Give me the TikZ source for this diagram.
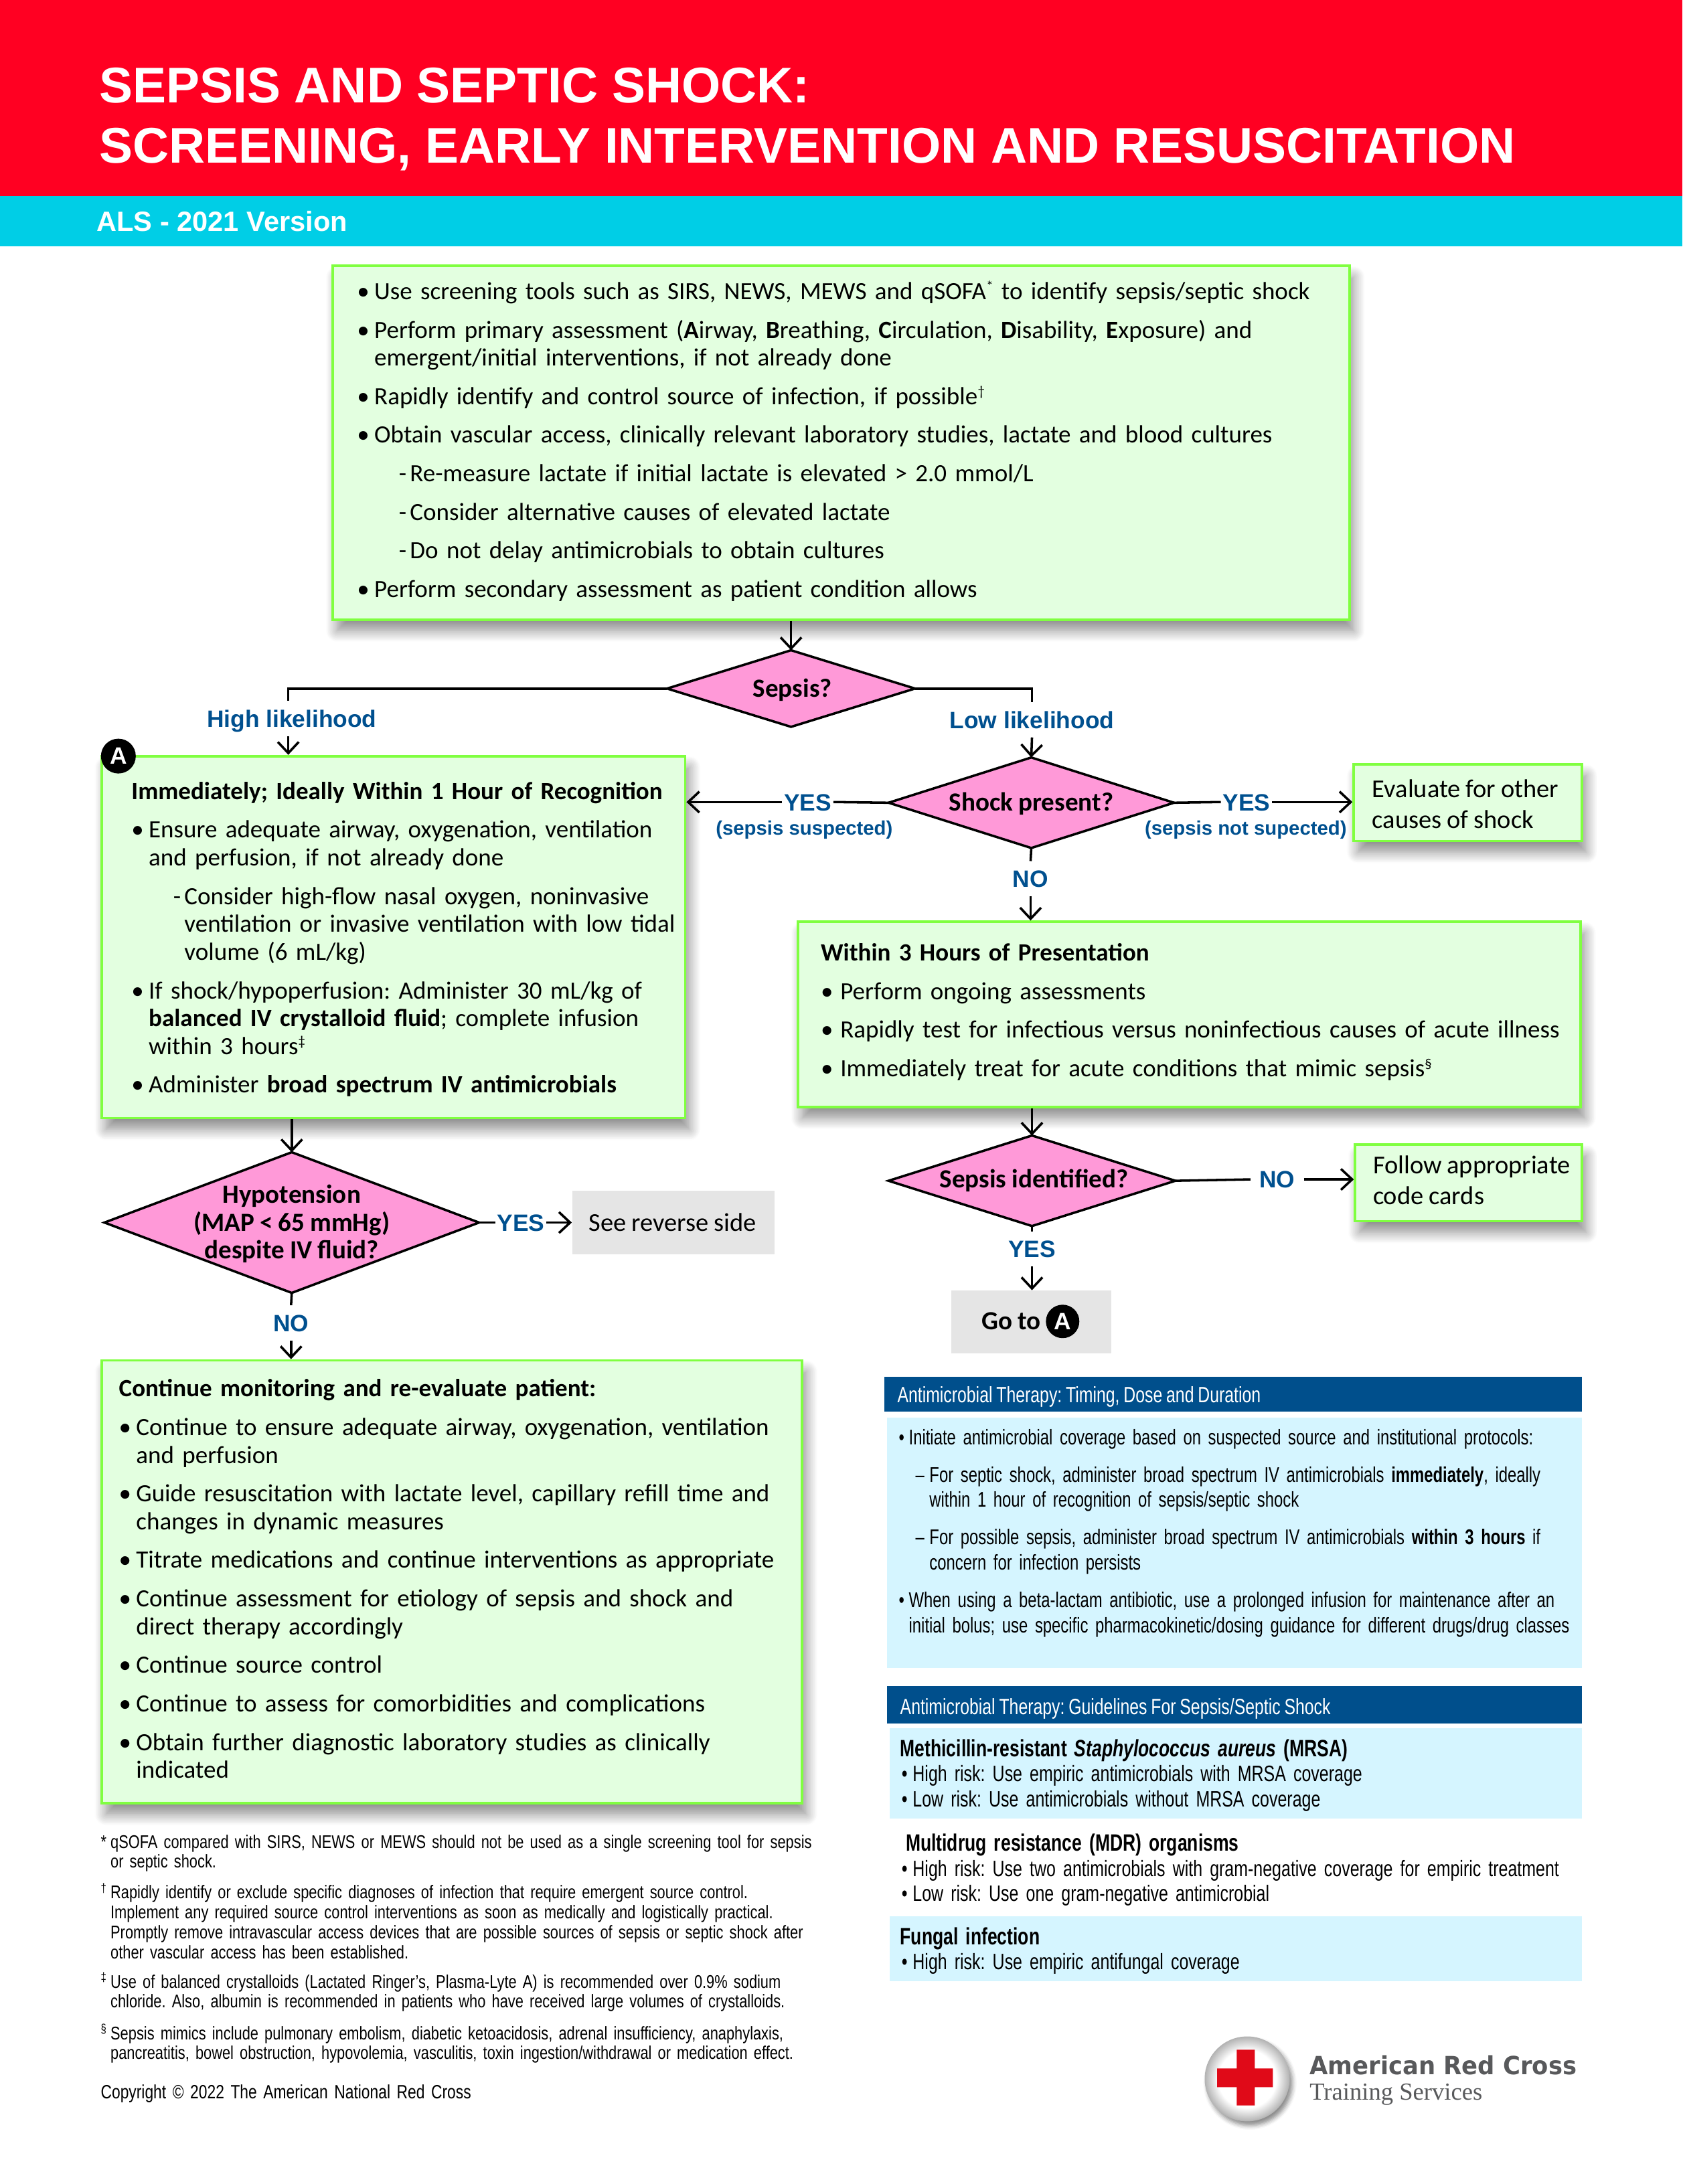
\documentclass[tikz,border=0pt]{standalone}
\usepackage{fontspec}
\setmainfont[WordSpace=0.9]{Carlito}
\newfontfamily\arialfont{Liberation Sans}
\newfontfamily\panelfont[FakeStretch=0.75,WordSpace=0.85]{Liberation Sans}
\newfontfamily\notefont[FakeStretch=0.795]{Liberation Sans}
\newfontfamily\logofont[FakeStretch=0.945]{DejaVu Sans}
\newfontfamily\logoserif{Liberation Serif}
\usetikzlibrary{arrows.meta,shapes.geometric,shadows.blur,fit}
\definecolor{bannerred}{HTML}{FF0022}
\definecolor{bannercyan}{HTML}{00CEE6}
\definecolor{boxfill}{HTML}{E3FFE0}
\definecolor{boxline}{HTML}{80FF40}
\definecolor{decisionpink}{HTML}{FF99D8}
\definecolor{greybox}{HTML}{E5E5E5}
\definecolor{panelhead}{HTML}{004F8C}
\definecolor{panelfill}{HTML}{D5F5FF}
\definecolor{labelblue}{HTML}{00508F}
\definecolor{logogrey}{HTML}{58595B}
\definecolor{crossred}{HTML}{E00A18}
\pgfdeclareradialshading{discshade}{\pgfpoint{0bp}{0bp}}{color(0bp)=(white); color(17bp)=(white); color(25bp)=(black!30); color(50bp)=(black!30)}
\newcommand{\listentry}[4]{\par\hangindent=#2\hangafter=1\noindent\strut\hspace*{#1}\makebox[\dimexpr#2-#1\relax][l]{#3}#4\par}
\newcommand{\bul}[1]{\listentry{0pt}{6.2pt}{\textbullet}{#1}}
\newcommand{\widebul}[1]{\listentry{0pt}{7pt}{\textbullet}{#1}}
\newcommand{\subbul}[1]{\listentry{15pt}{19pt}{-}{#1}}
\newcommand{\heading}[1]{\par\noindent\strut\textbf{#1}\par}
\newcommand{\tinybul}[1]{\listentry{0pt}{3.6pt}{\textbullet}{#1}}
\newcommand{\tinydash}[1]{\listentry{6pt}{11pt}{–}{#1}}
\newcommand{\guidebul}[1]{\listentry{0pt}{4pt}{\textbullet}{#1}}
\newcommand{\guidehead}[2]{\par\noindent\strut\hspace*{#1}{\fontsize{8.5}{9}\selectfont\bfseries #2}\par}
\newcommand{\sups}[1]{\raisebox{3pt}{\fontsize{5}{5}\selectfont #1}}
\newcommand{\marked}[2]{\listentry{0pt}{3.5pt}{#1}{#2}}
\newcommand{\notesup}[1]{\raisebox{2.2pt}{\fontsize{4.5}{5}\selectfont #1}}
\tikzset{
  greenbox/.style={rectangle, draw=boxline, line width=0.9pt, fill=boxfill, inner sep=0pt,
    blur shadow={shadow xshift=1.5pt, shadow yshift=-4pt, shadow blur steps=12, shadow blur radius=4pt, shadow opacity=45}},
  decision/.style={diamond, draw=black, line width=0.85pt, fill=decisionpink, inner sep=0pt, outer sep=0pt},
  decisiontext/.style={font=\fontsize{9.4}{10}\selectfont\bfseries, align=center, inner sep=0pt},
  bodytext/.style={anchor=north west, inner sep=0pt, align=left, text width=#1,
    font=\fontsize{8.9}{10}\selectfont\setlength{\parskip}{3.85pt}},
  sidetext/.style={anchor=north west, inner sep=0pt, align=left, font=\fontsize{9.25}{11}\selectfont},
  greyfill/.style={rectangle, fill=greybox, inner sep=0pt},
  headbar/.style={rectangle, fill=panelhead, inner sep=0pt},
  lightpanel/.style={rectangle, fill=panelfill, inner sep=0pt},
  headtext/.style={anchor=west, inner sep=0pt, text=white, font=\panelfont\fontsize{7.95}{9}\selectfont},
  paneltext/.style={anchor=north west, inner sep=0pt, align=left, text width=#1,
    font=\panelfont\fontsize{7.65}{9}\selectfont\setlength{\parskip}{4.5pt}},
  guidetext/.style={anchor=north west, inner sep=0pt, align=left, text width=#1,
    font=\panelfont\fontsize{8}{9}\selectfont\setlength{\parskip}{0pt}},
  notetext/.style={anchor=north west, inner sep=0pt, align=left, text width=265pt,
    font=\notefont\fontsize{6.6}{7.15}\selectfont},
  lbl/.style={font=\arialfont\fontsize{8.5}{10}\selectfont\bfseries, text=labelblue, inner xsep=0.5pt, inner ysep=3pt, text height=6.2pt, text depth=0pt},
  sublbl/.style={font=\arialfont\fontsize{7.05}{8}\selectfont\bfseries, text=labelblue, inner sep=0pt},
  badge/.style={circle, fill=black, text=white, inner sep=0pt, minimum size=12.5pt, font=\arialfont\fontsize{8.5}{10}\selectfont\bfseries},
  arr/.style={-{Straight Barb[length=4pt,width=7.5pt]}, line width=0.85pt},
  link/.style={line width=0.85pt}
}
\begin{document}
\frenchspacing
\begin{tikzpicture}[x=0.5pt,y=-0.5pt]
  \useasboundingbox (0,0) rectangle (1208,1568.5);
  % Banner
  \fill[bannerred] (0,0) rectangle (1208,141);
  \fill[bannercyan] (0,141) rectangle (1208,177);
  \node[anchor=base west, inner sep=0pt, text=white, font=\arialfont\fontsize{18}{22}\selectfont\bfseries] (title one) at (71,74) {SEPSIS AND SEPTIC SHOCK:};
  \node[anchor=base west, inner sep=0pt, text=white, font=\arialfont\fontsize{18}{22}\selectfont\bfseries] (title two) at (71,117) {SCREENING, EARLY INTERVENTION AND RESUSCITATION};
  \node[anchor=base west, inner sep=0pt, text=white, font=\arialfont\fontsize{10}{12}\selectfont\bfseries] (version) at (69,166) {ALS - 2021 Version};

  % Screening box
  \node[greenbox, fit={(239,191) (969,445)}] (screen) {};
  \node[bodytext=360pt] (screen text) at (256,187) {%
    \bul{Use screening tools such as SIRS, NEWS, MEWS and qSOFA\sups{*} to identify sepsis/septic shock}
    \bul{Perform primary assessment (\textbf{A}irway, \textbf{B}reathing, \textbf{C}irculation, \textbf{D}isability, \textbf{E}xposure) and\newline emergent/initial interventions, if not already done}
    \bul{Rapidly identify and control source of infection, if possible\sups{†}}
    \bul{Obtain vascular access, clinically relevant laboratory studies, lactate and blood cultures}
    \subbul{Re-measure lactate if initial lactate is elevated > 2.0 mmol/L}
    \subbul{Consider alternative causes of elevated lactate}
    \subbul{Do not delay antimicrobials to obtain cultures}
    \bul{Perform secondary assessment as patient condition allows}};

  % Sepsis decision
  \node[decision, minimum width=89pt, minimum height=27.5pt] (sepsis) at (568,494.5) {};
  \node[decisiontext] (sepsis text) at (569,495.5) {Sepsis?};
  \draw[arr] (screen.south -| sepsis) -- (sepsis.north);
  \node[lbl] (high) at (209.5,516) {High likelihood};
  \node[lbl] (low) at (741,517) {Low likelihood};
  \draw[link] (sepsis.west) -| (high.north -| 207,0);
  \draw[link] (sepsis.east) -| (low.north -| 741,0);

  % Immediate actions
  \node[greenbox, fit={(73,543) (492,803)}] (immediate) {};
  \node[badge] (badge a) at (85,543) {A};
  \node[bodytext=215pt] (immediate text) at (94,546) {%
    \heading{Immediately; Ideally Within 1 Hour of Recognition}
    \bul{Ensure adequate airway, oxygenation, ventilation\newline and perfusion, if not already done}
    \subbul{Consider high-flow nasal oxygen, noninvasive\newline ventilation or invasive ventilation with low tidal\newline volume (6 mL/kg)}
    \bul{If shock/hypoperfusion: Administer 30 mL/kg of\newline \textbf{balanced IV crystalloid fluid}; complete infusion\newline within 3 hours\sups{‡}}
    \bul{Administer \textbf{broad spectrum IV antimicrobials}}};
  \draw[arr] (high.south -| 207,0) -- (immediate.north -| 207,0);

  % Shock decision
  \node[decision, minimum width=102.5pt, minimum height=32.5pt] (shock) at (740.5,576.5) {};
  \node[decisiontext] (shock text) at (740.5,577) {Shock present?};
  \draw[arr] (low.south) -- (shock.north);
  \node[lbl] (yes left) at (580,576) {YES};
  \node[sublbl] (suspected) at (577.5,596) {(sepsis suspected)};
  \draw[link] (shock.west) -- (yes left.east);
  \draw[arr] (yes left.west) -- (immediate.east |- yes left);
  \node[lbl] (yes right) at (895,576) {YES};
  \node[sublbl] (not suspected) at (894.5,596) {(sepsis not supected)};
  \node[greenbox, fit={(972,549) (1136,604)}] (evaluate) {};
  \node[sidetext] (evaluate text) at (985,557) {\strut Evaluate for other\\\strut causes of shock};
  \draw[link] (shock.east) -- (yes right.west);
  \draw[arr] (yes right.east) -- (evaluate.west |- yes right);

  % Within 3 hours
  \node[lbl] (no shock) at (740,631) {NO};
  \node[greenbox, fit={(573,662) (1135,795)}] (within) {};
  \node[bodytext=290pt] (within text) at (589,662) {%
    \heading{Within 3 Hours of Presentation}
    \widebul{Perform ongoing assessments}
    \widebul{Rapidly test for infectious versus noninfectious causes of acute\hspace{3pt}illness}
    \widebul{Immediately treat for acute conditions that mimic sepsis\sups{§}}};
  \draw[link] (shock.south) -- (no shock.north);
  \draw[arr] (no shock.south) -- (within.north -| no shock);

  % Sepsis identified decision
  \node[decision, minimum width=103pt, minimum height=32.5pt] (identified) at (741,848) {};
  \node[decisiontext] (identified text) at (742.5,848) {Sepsis identified?};
  \draw[arr] (within.south -| identified) -- (identified.north);
  \node[lbl, inner xsep=3pt] (no identified) at (917,847) {NO};
  \node[greenbox, fit={(973,822) (1136,877)}] (follow) {};
  \node[sidetext] (follow text) at (985.5,827) {\strut Follow appropriate\\\strut code cards};
  \draw[link] (identified.east) -- (no identified.west);
  \draw[arr] (no identified.east) -- (follow.west |- no identified);
  \node[lbl] (yes identified) at (741,897) {YES};
  \node[greyfill, fit={(683,927) (798,972)}] (goto) {};
  \node[decisiontext, anchor=east] (goto text) at (747.5,949) {Go to};
  \node[badge, minimum size=12pt] (badge goto) at (763,949) {A};
  \draw[link] (identified.south) -- (yes identified.north);
  \draw[arr] (yes identified.south) -- (goto.north -| yes identified);

  % Hypotension decision
  \node[decision, minimum width=134.5pt, minimum height=50.5pt] (hypo) at (209.5,878) {};
  \node[decisiontext] (hypo text) at (209.5,879) {Hypotension\\(MAP < 65 mmHg)\\despite IV fluid?};
  \draw[arr] (immediate.south -| hypo) -- (hypo.north);
  \node[lbl] (yes hypo) at (374,878) {YES};
  \node[greyfill, fit={(411,855) (556,901)}] (reverse) {};
  \node[inner sep=0pt, font=\fontsize{9.25}{11}\selectfont] (reverse text) at (483,878) {See reverse side};
  \draw[link] (hypo.east) -- (yes hypo.west);
  \draw[arr] (yes hypo.east) -- (reverse.west |- yes hypo);
  \node[lbl] (no hypo) at (209,950) {NO};

  % Continue monitoring
  \node[greenbox, fit={(73,977) (576,1295)}] (monitor) {};
  \node[bodytext=250pt] (monitor text) at (85,975) {%
    \heading{Continue monitoring and re-evaluate patient:}
    \bul{Continue to ensure adequate airway, oxygenation, ventilation\newline and perfusion}
    \bul{Guide resuscitation with lactate level, capillary refill time and\newline changes in dynamic measures}
    \bul{Titrate medications and continue interventions as appropriate}
    \bul{Continue assessment for etiology of sepsis and shock and\newline direct therapy accordingly}
    \bul{Continue source control}
    \bul{Continue to assess for comorbidities and complications}
    \bul{Obtain further diagnostic laboratory studies as clinically\newline indicated}};
  \draw[link] (hypo.south) -- (no hypo.north);
  \draw[arr] (no hypo.south) -- (monitor.north -| no hypo);

  % Footnotes
  \node[notetext] (note one) at (72,1312.5) {\marked{*}{qSOFA compared with SIRS, NEWS or MEWS should not be used as a single screening tool for sepsis\newline or septic shock.}};
  \node[notetext] (note two) at (72,1349) {\marked{\notesup{†}}{Rapidly identify or exclude specific diagnoses of infection that require emergent source control.\newline Implement any required source control interventions as soon as medically and logistically practical.\newline Promptly remove intravascular access devices that are possible sources of sepsis or septic shock after\newline other vascular access has been established.}};
  \node[notetext] (note three) at (72,1413) {\marked{\notesup{‡}}{Use of balanced crystalloids (Lactated Ringer’s, Plasma-Lyte A) is recommended over 0.9\% sodium\newline chloride. Also, albumin is recommended in patients who have received large volumes of crystalloids.}};
  \node[notetext] (note four) at (72,1450) {\marked{\notesup{§}}{Sepsis mimics include pulmonary embolism, diabetic ketoacidosis, adrenal insufficiency, anaphylaxis,\newline pancreatitis, bowel obstruction, hypovolemia, vasculitis, toxin ingestion/withdrawal or medication effect.}};
  \node[notetext, font=\notefont\fontsize{6.9}{7.15}\selectfont] (copyright) at (72,1497) {\strut Copyright © 2022 The American National Red Cross};

  % Timing panel
  \node[headbar, fit={(635,989) (1136,1014)}] (timing head) {};
  \node[headtext] (timing title) at (644,1003) {Antimicrobial Therapy: Timing, Dose and Duration};
  \node[lightpanel, fit={(637,1018) (1136,1198)}] (timing) {};
  \node[paneltext=265pt] (timing text) at (645,1010) {%
    \tinybul{Initiate antimicrobial coverage based on suspected source and institutional protocols:}
    \tinydash{For septic shock, administer broad spectrum IV antimicrobials \textbf{immediately}, ideally\newline within 1 hour of recognition of sepsis/septic shock}
    \tinydash{For possible sepsis, administer broad spectrum IV antimicrobials \textbf{within 3 hours} if\newline concern for infection persists}
    \tinybul{When using a beta-lactam antibiotic, use a prolonged infusion for maintenance after an\newline initial bolus; use specific pharmacokinetic/dosing guidance for different drugs/drug classes}};

  % Guidelines panels
  \node[headbar, fit={(637,1211) (1136,1238)}] (guide head) {};
  \node[headtext] (guide title) at (646,1227) {Antimicrobial Therapy: Guidelines For Sepsis/Septic Shock};
  \node[lightpanel, fit={(639,1241) (1136,1306)}] (mrsa) {};
  \node[guidetext=250pt] (mrsa text) at (647,1243) {%
    \guidehead{-0.5pt}{Methicillin-resistant \textit{Staphylococcus aureus} (MRSA)}
    \guidebul{High risk: Use empiric antimicrobials with MRSA coverage}
    \guidebul{Low risk: Use antimicrobials without MRSA coverage}};
  \node[guidetext=250pt] (mdr text) at (647,1311) {%
    \guidehead{1.5pt}{Multidrug resistance (MDR) organisms}
    \guidebul{High risk: Use two antimicrobials with gram-negative coverage for empiric treatment}
    \guidebul{Low risk: Use one gram-negative antimicrobial}};
  \node[lightpanel, fit={(639,1376) (1136,1423)}] (fungal) {};
  \node[guidetext=250pt] (fungal text) at (647,1378) {%
    \guidehead{-0.5pt}{Fungal infection}
    \guidebul{High risk: Use empiric antifungal coverage}};

  % Logo
  \node[circle, minimum size=30.5pt, inner sep=0pt, shading=discshade, blur shadow={shadow xshift=1pt, shadow yshift=-1.5pt, shadow blur radius=1.5pt, shadow opacity=45}] (logo disc) at (895.5,1493) {};
  \fill[crossred] (888,1472) -- (901,1472) -- (901,1485.5) -- (914,1485.5) -- (914,1499) -- (901,1499) -- (901,1512) -- (888,1512) -- (888,1499) -- (874,1499) -- (874,1485.5) -- (888,1485.5) -- cycle;
  \node[anchor=west, inner sep=0pt, text=logogrey, font=\logofont\fontsize{9}{11}\selectfont\bfseries] (logo name) at (940,1483) {American Red Cross};
  \node[anchor=west, inner sep=0pt, text=logogrey, font=\logoserif\fontsize{8.8}{11}\selectfont] (logo sub) at (940,1504) {Training Services};
\end{tikzpicture}
\end{document}
